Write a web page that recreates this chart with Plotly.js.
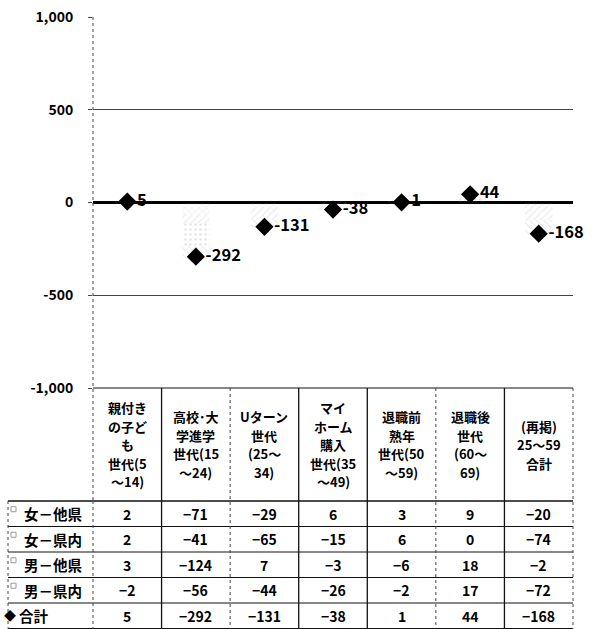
<!DOCTYPE html>
<html>
<head>
<meta charset="utf-8">
<script src="https://cdn.plot.ly/plotly-3.0.1.min.js"></script>
<style>html,body{margin:0;padding:0;background:#fff;}#chart{width:596px;height:629px;}</style>
</head>
<body>
<div id="chart"></div>
<script>
// ---- data ----
const categories = [
  "親付き<br>の子ど<br>も<br>世代(5<br>～14)",
  "高校･大<br>学進学<br>世代(15<br>～24)",
  "Uターン<br>世代<br>(25～<br>34)",
  "マイ<br>ホーム<br>購入<br>世代(35<br>～49)",
  "退職前<br>熟年<br>世代(50<br>～59)",
  "退職後<br>世代<br>(60～<br>69)",
  "(再掲)<br>25～59<br>合計"
];
const seriesNames = ["女－他県", "女－県内", "男－他県", "男－県内", "合計"];
const femaleOther = [2, -71, -29, 6, 3, 9, -20];
const femaleIn    = [2, -41, -65, -15, 6, 0, -74];
const maleOther   = [3, -124, 7, -3, -6, 18, -2];
const maleIn      = [-2, -56, -44, -26, -2, 17, -72];
const total       = [5, -292, -131, -38, 1, 44, -168];
const yTickVals   = [1000, 500, 0, -500, -1000];
const yTickText   = ["1,000", "500", "0", "-500", "-1,000"];

// ---- layout helpers ----
const FONT = "Noto Sans CJK JP, Noto Sans, sans-serif";
const L = 93, R = 573, T = 17, B = 388;
const W = R - L, H = B - T;
const px = p => (p - L) / W;
const py = p => 1 - (p - T) / H;
const xIdx = categories.map((_, i) => i);

const barSeries = [femaleOther, femaleIn, maleOther, maleIn];
const patterns = ["x", "/", ".", "\\"];
const traces = barSeries.map((vals, k) => ({
  type: "bar", x: xIdx, y: vals, name: seriesNames[k], width: 0.4,
  marker: {color: "rgba(255,255,255,0)", line: {width: 0},
           pattern: {shape: patterns[k], fgcolor: "#aaa", fgopacity: 0.3, size: 5, solidity: 0.2}},
  hoverinfo: "skip"
}));
traces.push({
  type: "scatter", mode: "markers+text", x: xIdx, y: total, name: seriesNames[4],
  marker: {symbol: "diamond", size: 14, color: "#000"},
  text: total.map(v => String(v)), textposition: "middle right",
  textfont: {family: FONT, size: 16.5, color: "#000", weight: 700},
  cliponaxis: false
});

// ---- table geometry ----
const rowB = [388, 501, 526.5, 552, 577.5, 603, 628.5];
const colB = xIdx.map(i => L + i * W / 7).concat([R]);
const shapes = [];
const lineC = "#111";
shapes.push({type: "line", xref: "paper", yref: "paper", x0: 0, x1: 0, y0: py(T), y1: py(rowB[1]),
  line: {color: "#444", width: 1, dash: "dot"}});
shapes.push({type: "line", xref: "paper", yref: "paper", x0: 0, x1: 1, y0: py(rowB[0]), y1: py(rowB[0]),
  line: {color: lineC, width: 1}});
for (let r = 1; r < rowB.length; r++) {
  shapes.push({type: "line", xref: "paper", yref: "paper", x0: px(8), x1: 1, y0: py(rowB[r]), y1: py(rowB[r]),
    line: {color: lineC, width: r === 1 ? 1.5 : 1}});
}
shapes.push({type: "line", xref: "paper", yref: "paper", x0: px(8), x1: px(8), y0: py(rowB[1]), y1: py(rowB[6]),
  line: {color: "#444", width: 1, dash: "dot"}});
shapes.push({type: "line", xref: "paper", yref: "paper", x0: 0, x1: 0, y0: py(rowB[1]), y1: py(rowB[6]),
  line: {color: "#444", width: 1, dash: "dot"}});
const solidCols = [false, true, false, true, true, false, true, false];
for (let c = 1; c < colB.length; c++) {
  shapes.push({type: "line", xref: "paper", yref: "paper", x0: px(colB[c]), x1: px(colB[c]),
    y0: py(rowB[0]), y1: py(rowB[6]),
    line: {color: solidCols[c] ? lineC : "#444", width: solidCols[c] ? 1.3 : 1, dash: solidCols[c] ? "solid" : "dot"}});
}
for (let k = 0; k < 4; k++) {
  const yc = (rowB[k + 1] + rowB[k + 2]) / 2;
  shapes.push({type: "rect", xref: "paper", yref: "paper", x0: px(11), x1: px(16), y0: py(yc - 7), y1: py(yc - 2),
    line: {color: "#999", width: 1}, fillcolor: "rgba(0,0,0,0)"});
}

// ---- annotations ----
const annotations = [];
const LH = 18.5;
const headMid = (rowB[0] + rowB[1]) / 2;
categories.forEach((c, i) => {
  const lines = c.split("<br>");
  const start = headMid - (lines.length - 1) * LH / 2;
  lines.forEach((ln, j) => {
    annotations.push({xref: "x", yref: "paper", x: i, y: py(start + j * LH), text: ln,
      showarrow: false, xanchor: "center", yanchor: "middle", align: "center",
      font: {family: FONT, size: 13, color: "#000", weight: 700}});
  });
});
const rowVals = [femaleOther, femaleIn, maleOther, maleIn, total];
rowVals.forEach((vals, r) => {
  const yc = (rowB[r + 1] + rowB[r + 2]) / 2;
  annotations.push({xref: "paper", yref: "paper", x: px(r === 4 ? 17 : 22), y: py(yc),
    text: seriesNames[r], showarrow: false, xanchor: "left", yanchor: "middle",
    font: {family: FONT, size: 14.5, color: "#000", weight: 700}});
  vals.forEach((v, i) => {
    annotations.push({xref: "x", yref: "paper", x: i, y: py(yc), text: String(v).replace("-", "−"),
      showarrow: false, xanchor: "center", yanchor: "middle",
      font: {family: FONT, size: 14, color: "#000", weight: 700}});
  });
});
annotations.push({xref: "paper", yref: "paper", x: px(10), y: py((rowB[5] + rowB[6]) / 2), text: "◆",
  showarrow: false, xanchor: "center", yanchor: "middle", font: {family: FONT, size: 12, color: "#000"}});

const layout = {
  width: 596, height: 629,
  margin: {l: L, r: 596 - R, t: T, b: 629 - B, pad: 0},
  paper_bgcolor: "#fff", plot_bgcolor: "#fff",
  showlegend: false,
  barmode: "relative",
  xaxis: {range: [-0.5, 6.5], showticklabels: false, showgrid: false, zeroline: false, showline: false, fixedrange: true},
  yaxis: {range: [-1000, 1000], tickvals: yTickVals, ticktext: yTickText,
    showgrid: true, gridcolor: "#444", gridwidth: 1,
    zeroline: true, zerolinecolor: "#000", zerolinewidth: 3,
    showline: false, ticks: "outside", ticklen: 4, tickcolor: "#444", ticklabelstandoff: 12,
    tickfont: {family: FONT, size: 14, color: "#000", weight: 700}},
  shapes: shapes,
  annotations: annotations
};

Plotly.newPlot("chart", traces, layout, {displayModeBar: false, staticPlot: true});
</script>
</body>
</html>
